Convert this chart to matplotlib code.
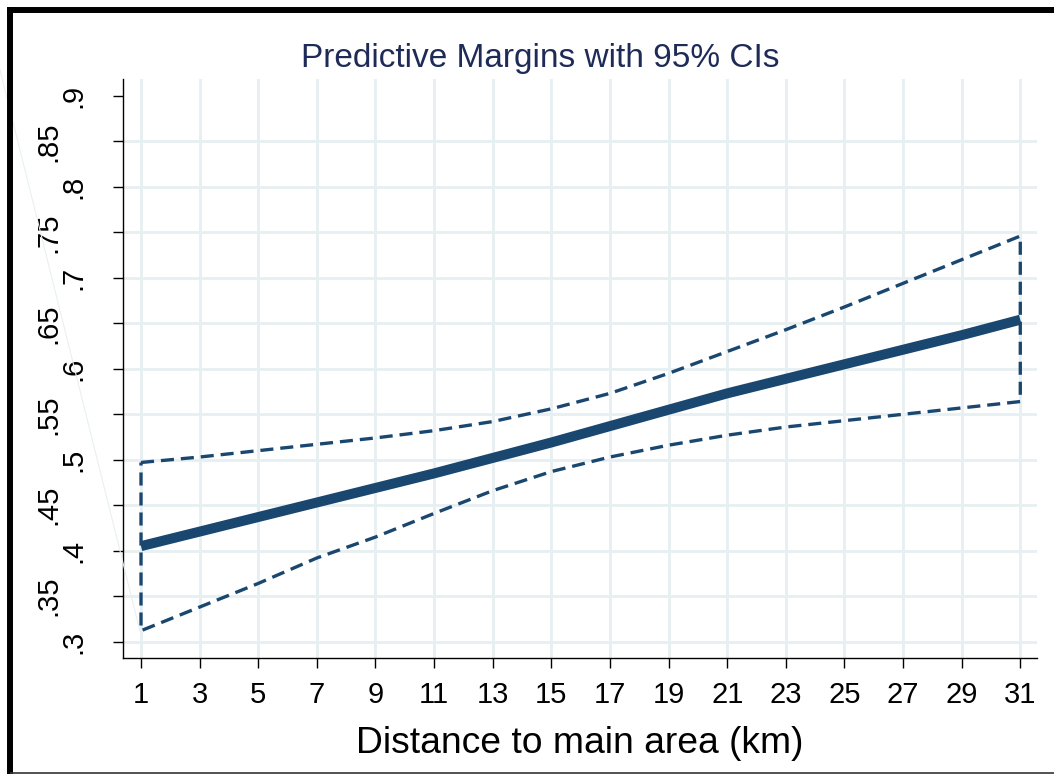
import matplotlib
matplotlib.use('Agg')
import matplotlib.pyplot as plt
from matplotlib.lines import Line2D

# ---- data ----
x_values = [1, 3, 5, 7, 9, 11, 13, 15, 17, 19, 21, 23, 25, 27, 29, 31]
margin = [0.405, 0.421, 0.437, 0.453, 0.469, 0.485, 0.502, 0.519,
          0.537, 0.555, 0.573, 0.589, 0.605, 0.621, 0.637, 0.654]
ci_upper = [0.497, 0.503, 0.510, 0.517, 0.524, 0.532, 0.542, 0.556,
            0.573, 0.595, 0.619, 0.643, 0.668, 0.694, 0.720, 0.746]
ci_lower = [0.312, 0.338, 0.364, 0.392, 0.415, 0.441, 0.466, 0.487,
            0.503, 0.516, 0.527, 0.536, 0.543, 0.550, 0.557, 0.564]
y_ticks = [0.3, 0.35, 0.4, 0.45, 0.5, 0.55, 0.6, 0.65, 0.7, 0.75, 0.8, 0.85, 0.9]
y_tick_labels = ['.3', '.35', '.4', '.45', '.5', '.55', '.6', '.65', '.7', '.75', '.8', '.85', '.9']
x_ticks = x_values
x_tick_labels = [str(v) for v in x_values]
title_text = 'Predictive Margins with 95% CIs'
xlabel_text = 'Distance to main area (km)'

# ---- style ----
plt.rcParams['font.family'] = ['Liberation Sans', 'DejaVu Sans']
plt.rcParams['lines.scale_dashes'] = False
navy = '#1a476f'
title_color = '#1e2b58'
grid_color = '#e6eff1'

W, H = 1054, 774
fig = plt.figure(figsize=(W / 100, H / 100), dpi=100)
fig.patch.set_facecolor('white')


def fx(px):
    return px / W


def fy(py):
    return 1 - py / H


ax = fig.add_axes([fx(123.3), fy(658), fx(1036.7) - fx(123.3), fy(79) - fy(658)])
ax.set_xlim(0.396, 31.56)
ax.set_ylim(0.282, 0.9187)

# CI outline (closed, dashed)
xs = x_values + x_values[::-1] + [x_values[0]]
ys = ci_upper + ci_lower[::-1] + [ci_upper[0]]
ax.plot(xs, ys, color=navy, lw=2.4, dashes=(9.4, 5.0),
        dash_capstyle='butt', dash_joinstyle='miter', zorder=3)
# predictive margins
ax.plot(x_values, margin, color=navy, lw=7.2, solid_capstyle='butt', zorder=4)

# spines
for s in ['top', 'right']:
    ax.spines[s].set_visible(False)
for s in ['left', 'bottom']:
    ax.spines[s].set_linewidth(1.0)
    ax.spines[s].set_color('black')

ax.set_xticks(x_ticks)
ax.set_xticklabels(x_tick_labels)
ax.set_yticks(y_ticks)
ax.set_yticklabels(y_tick_labels)
ax.tick_params(axis='both', direction='out', length=7.2, width=1.0,
               colors='black', labelsize=21)
ax.tick_params(axis='x', pad=9.5)

ax.grid(True, color=grid_color, lw=2.0)
ax.set_axisbelow(True)

yt = ax.yaxis.get_major_ticks()
for i, t in enumerate(yt):
    t.set_pad(19.0 if i % 2 == 0 else 36.5)
yt[-1].gridline.set_visible(False)
for lab in ax.get_yticklabels():
    lab.set_rotation(90)
    lab.set_va('center')

# x label
ax.set_xlabel(xlabel_text, fontsize=26.8, color='black')
ax.xaxis.label.set_va('baseline')
ax.xaxis.set_label_coords(0.5, (658 - 753.3) / (658 - 79))

# title
fig.text(fx(540), fy(66.7), title_text, ha='center', va='baseline',
         fontsize=24, color=title_color)

# faint stray line
fig.add_artist(Line2D([fx(0), fx(140)], [fy(70), fy(631)],
                      transform=fig.transFigure, color='#e9f0f1', lw=0.8))

# outer frame
fig.add_artist(Line2D([fx(10), fx(10)], [fy(7), fy(776)], transform=fig.transFigure,
                      color='black', lw=4.3, solid_capstyle='butt'))
fig.add_artist(Line2D([fx(7), fx(1056)], [fy(10), fy(10)], transform=fig.transFigure,
                      color='black', lw=4.3, solid_capstyle='butt'))
fig.add_artist(Line2D([fx(10), fx(1056)], [fy(773), fy(773)], transform=fig.transFigure,
                      color='#333333', lw=1.2, solid_capstyle='butt'))

fig.savefig('out.png', dpi=100, facecolor='white')
